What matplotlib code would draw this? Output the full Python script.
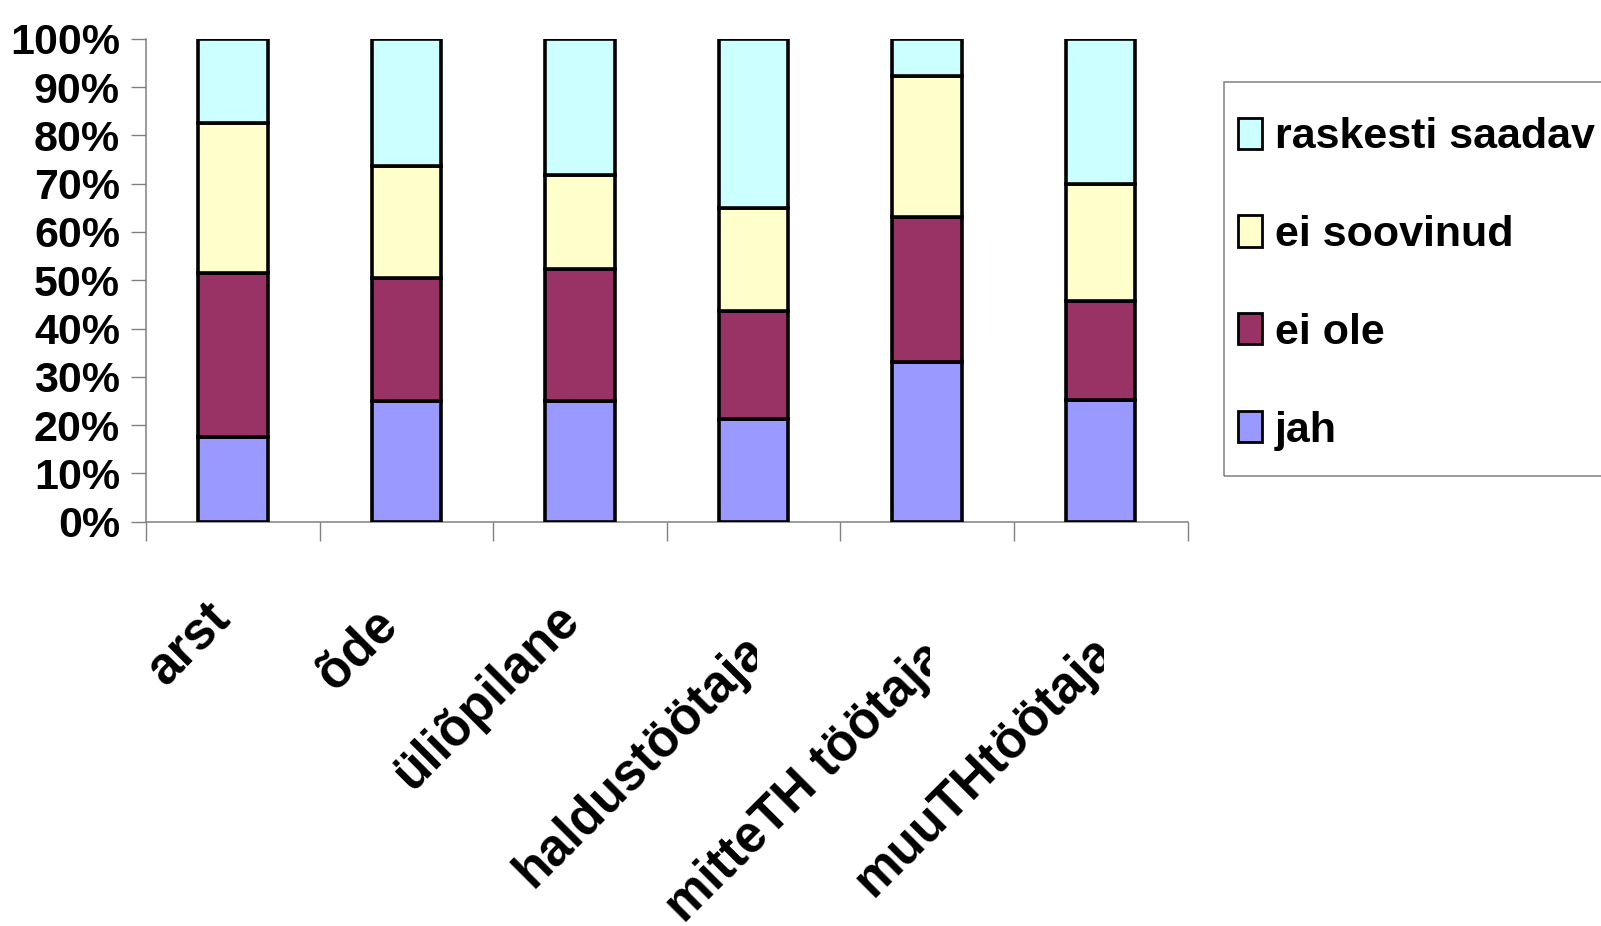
import matplotlib
matplotlib.use("Agg")
import matplotlib.pyplot as plt
from matplotlib.patches import Rectangle
from matplotlib.transforms import Bbox
import numpy as np

plt.rcParams['font.family'] = ['Liberation Sans', 'DejaVu Sans']
plt.rcParams['font.weight'] = 'bold'

# andmed (protsendid)
kategooriad = ["arst", "õde", "üliõpilane", "haldustöötaja", "mitteTH töötaja", "muuTHtöötaja"]
jah = [17.5, 25.0, 25.0, 21.3, 33.0, 25.1]
ei_ole = [34.0, 25.5, 27.3, 22.3, 30.2, 20.5]
ei_soovinud = [31.0, 23.2, 19.4, 21.4, 29.1, 24.3]
raskesti = [17.5, 26.3, 28.3, 35.0, 7.7, 30.1]

seeriad = ["jah", "ei ole", "ei soovinud", "raskesti saadav"]
varvid = ["#9999FF", "#993366", "#FFFFCC", "#CCFFFF"]

FS = 31
W, H = 1601, 926
fig = plt.figure(figsize=(W / 100, H / 100), dpi=100)
ax = fig.add_axes([146 / W, (H - 521.7) / H, (1187.5 - 146) / W, (521.7 - 38.8) / H])

x = np.arange(len(kategooriad)) + 0.5
pohi = np.zeros(len(kategooriad))
for vals, nimi, v in zip([jah, ei_ole, ei_soovinud, raskesti], seeriad, varvid):
    ax.bar(x, vals, width=0.4, bottom=pohi, color=v, edgecolor="black",
           linewidth=2.6, label=nimi, zorder=3)
    pohi = pohi + np.array(vals)

ax.set_xlim(0, len(kategooriad))
ax.set_ylim(0, 100)
ax.set_yticks(range(0, 101, 10))
ax.set_yticklabels(["%d%%" % v for v in range(0, 101, 10)], fontsize=FS, fontweight="bold")
ax.set_xticks(range(0, len(kategooriad) + 1))
ax.set_xticklabels([])
ax.tick_params(axis="y", direction="out", length=10.8, width=1, color="#808080", pad=8)
ax.tick_params(axis="x", direction="out", length=13.7, width=1, color="#808080")
for s in ["top", "right"]:
    ax.spines[s].set_visible(False)
for s in ["left", "bottom"]:
    ax.spines[s].set_color("#808080")
    ax.spines[s].set_linewidth(1.1)

# kategooriate sildid, 45 kraadi, lõigatud keskkoha juures
algus = [(165, 687), (335, 692), (412, 791), (533, 889), (684, 924), (873, 898)]
fig.canvas.draw()
for i, (nimi, (px, py)) in enumerate(zip(kategooriad, algus)):
    t = fig.text(px / W, (H - py) / H, nimi, rotation=45, rotation_mode="anchor",
                 ha="left", va="baseline", fontsize=37, fontweight="bold")
    cx = ax.transData.transform((x[i], 0))[0] + 3
    t.set_clip_box(Bbox([[0, 0], [cx, H]]))
    t.set_clip_on(True)

# legend
fig.patches.append(Rectangle((1224 / W, (H - 476) / H), 500 / W, (476 - 81.7) / H,
                             transform=fig.transFigure, fill=False,
                             edgecolor="#808080", linewidth=1.1))
h, l = ax.get_legend_handles_labels()
leg = fig.legend(h[::-1], l[::-1], loc="center left", bbox_to_anchor=(1238 / W, (H - 284) / H),
                 frameon=False, borderpad=0, borderaxespad=0,
                 handlelength=0.56, handleheight=0.74, handletextpad=0.3, labelspacing=1.34,
                 prop={"weight": "bold", "size": FS})
for p in leg.get_patches():
    p.set_linewidth(2.0)

fig.savefig("out.png", dpi=100)
